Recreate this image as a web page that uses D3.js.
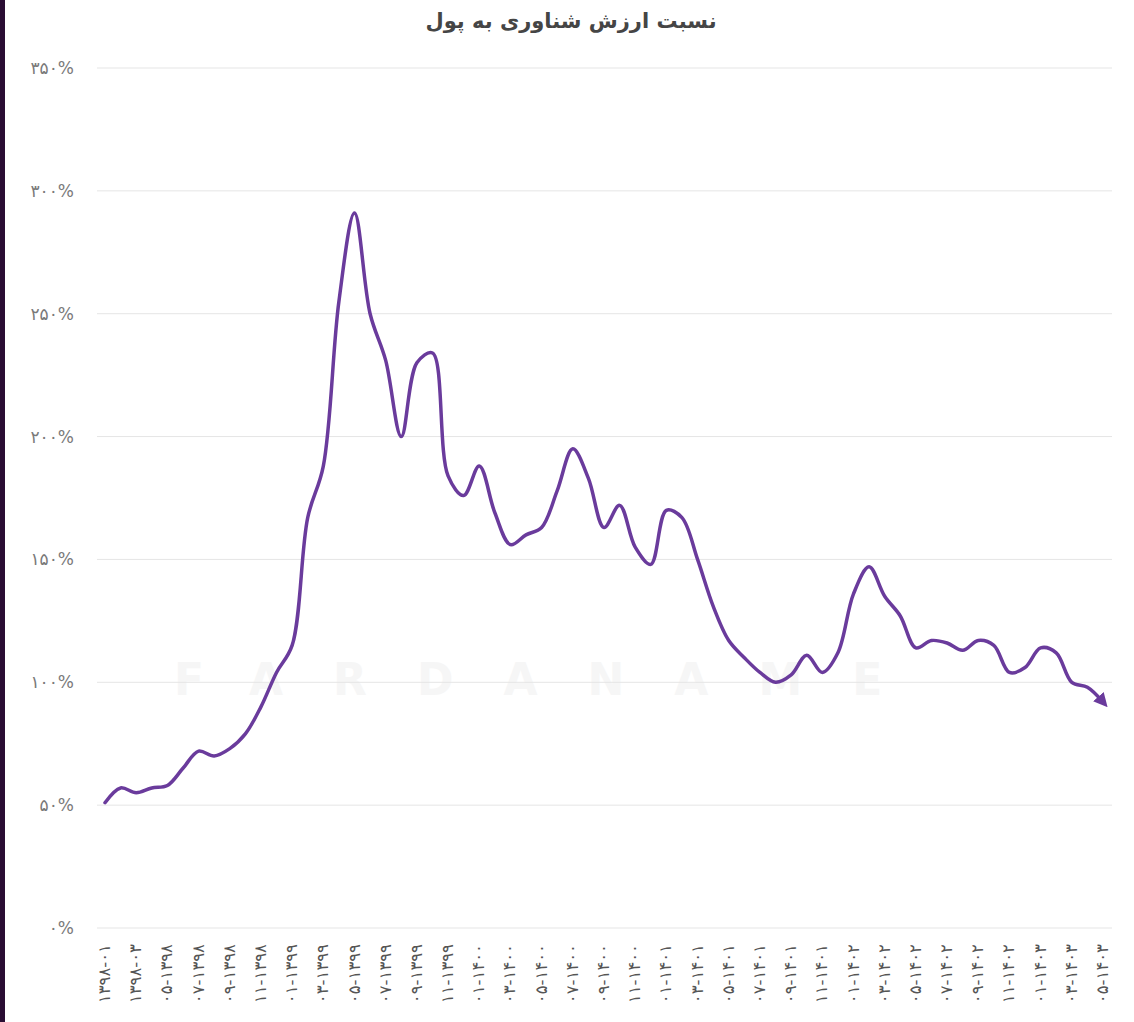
<!DOCTYPE html>
<html>
<head>
<meta charset="utf-8">
<script src="https://cdn.jsdelivr.net/npm/d3@7"></script>
<style>
  html, body { margin: 0; padding: 0; background: #ffffff; }
  svg { display: block; }
</style>
</head>
<body>
<svg id="chart" width="1134" height="1022"></svg>
<script>
// ---- data ----
const title = "نسبت ارزش شناوری به پول";

const months = [
  "1398-01","1398-02","1398-03","1398-04","1398-05","1398-06","1398-07","1398-08","1398-09","1398-10","1398-11","1398-12",
  "1399-01","1399-02","1399-03","1399-04","1399-05","1399-06","1399-07","1399-08","1399-09","1399-10","1399-11","1399-12",
  "1400-01","1400-02","1400-03","1400-04","1400-05","1400-06","1400-07","1400-08","1400-09","1400-10","1400-11","1400-12",
  "1401-01","1401-02","1401-03","1401-04","1401-05","1401-06","1401-07","1401-08","1401-09","1401-10","1401-11","1401-12",
  "1402-01","1402-02","1402-03","1402-04","1402-05","1402-06","1402-07","1402-08","1402-09","1402-10","1402-11","1402-12",
  "1403-01","1403-02","1403-03","1403-04","1403-05"
];

const ratio = [
  51, 57, 55, 57, 58, 65, 72, 70, 73, 79, 90, 104,
  115, 167, 188, 255, 291, 250, 231, 200, 230, 234, 184, 176,
  188, 169, 156, 160, 163, 178, 195, 183, 163, 172, 155, 148,
  170, 167, 150, 131, 117, 110, 104, 100, 103, 111, 104, 112,
  136, 147, 135, 127, 114, 117, 116, 113, 117, 115, 104, 106,
  114, 112, 100, 98, 92
];

const tickMonths = [
  "1398-01","1398-03","1398-05","1398-07","1398-09","1398-11",
  "1399-01","1399-03","1399-05","1399-07","1399-09","1399-11",
  "1400-01","1400-03","1400-05","1400-07","1400-09","1400-11",
  "1401-01","1401-03","1401-05","1401-07","1401-09","1401-11",
  "1402-01","1402-03","1402-05","1402-07","1402-09","1402-11",
  "1403-01","1403-03","1403-05"
];
// labels as they appear (read bottom-to-top)
const tickLabels = [
  "۱۳۹۸-۰۱","۱۳۹۸-۰۳","۰۵-۱۳۹۸","۰۷-۱۳۹۸","۰۹-۱۳۹۸","۱۱-۱۳۹۸",
  "۰۱-۱۳۹۹","۰۳-۱۳۹۹","۰۵-۱۳۹۹","۰۷-۱۳۹۹","۰۹-۱۳۹۹","۱۱-۱۳۹۹",
  "۰۱-۱۴۰۰","۰۳-۱۴۰۰","۰۵-۱۴۰۰","۰۷-۱۴۰۰","۰۹-۱۴۰۰","۱۱-۱۴۰۰",
  "۰۱-۱۴۰۱","۰۳-۱۴۰۱","۰۵-۱۴۰۱","۰۷-۱۴۰۱","۰۹-۱۴۰۱","۱۱-۱۴۰۱",
  "۰۱-۱۴۰۲","۰۳-۱۴۰۲","۰۵-۱۴۰۲","۰۷-۱۴۰۲","۰۹-۱۴۰۲","۱۱-۱۴۰۲",
  "۰۱-۱۴۰۳","۰۳-۱۴۰۳","۰۵-۱۴۰۳"
];

const yTicks = [0, 50, 100, 150, 200, 250, 300, 350];
const yTickLabels = ["۰%","۵۰%","۱۰۰%","۱۵۰%","۲۰۰%","۲۵۰%","۳۰۰%","۳۵۰%"];

// ---- drawing ----
const svg = d3.select("#chart");
const FONT = "'DejaVu Sans', 'Noto Sans', sans-serif";

// left dark border
svg.append("rect").attr("x", 0).attr("y", 0).attr("width", 5).attr("height", 1022).attr("fill", "#2a0d33");

const x = d3.scalePoint().domain(months).range([105, 1103]);
const y = d3.scaleLinear().domain([0, 350]).range([928, 68]);

// watermark
svg.append("text")
  .attr("x", 174).attr("y", 695)
  .attr("text-anchor", "start")
  .attr("font-family", FONT)
  .attr("font-size", 44)
  .attr("font-weight", "bold")
  .attr("letter-spacing", 50)
  .attr("fill", "#f6f6f6")
  .text("FARDANAME");

// gridlines
svg.append("g").selectAll("line").data(yTicks).join("line")
  .attr("x1", 97).attr("x2", 1112)
  .attr("y1", d => y(d)).attr("y2", d => y(d))
  .attr("stroke", "#e5e5e5").attr("stroke-width", 1);

// y labels
svg.append("g").selectAll("text").data(yTicks).join("text")
  .attr("x", 74).attr("y", d => y(d))
  .attr("dy", "0.35em")
  .attr("text-anchor", "end")
  .attr("font-family", FONT)
  .attr("font-size", 17)
  .attr("fill", "#7a7a7a")
  .style("direction", "ltr").style("unicode-bidi", "bidi-override")
  .text((d, i) => yTickLabels[i]);

// x labels
svg.append("g").selectAll("text").data(tickMonths).join("text")
  .attr("transform", d => `translate(${x(d) + 5},944) rotate(-90)`)
  .attr("text-anchor", "end")
  .attr("font-family", FONT)
  .attr("font-size", 16.5)
  .attr("fill", "#555")
  .style("direction", "ltr").style("unicode-bidi", "bidi-override")
  .text((d, i) => tickLabels[i]);

// arrow marker
svg.append("defs").append("marker")
  .attr("id", "arrow")
  .attr("viewBox", "0 0 10 10")
  .attr("refX", 5).attr("refY", 5)
  .attr("markerWidth", 4).attr("markerHeight", 4)
  .attr("orient", "auto")
  .append("path").attr("d", "M0,0 L10,5 L0,10 z").attr("fill", "#6a3b9c");

// line
const line = d3.line()
  .x((d, i) => x(months[i]))
  .y(d => y(d))
  .curve(d3.curveCatmullRom.alpha(0.5));

svg.append("path")
  .datum(ratio)
  .attr("d", line)
  .attr("fill", "none")
  .attr("stroke", "#6a3b9c")
  .attr("stroke-width", 3.5)
  .attr("stroke-linejoin", "round")
  .attr("stroke-linecap", "round")
  .attr("marker-end", "url(#arrow)");

// title
svg.append("text")
  .attr("x", 571).attr("y", 28)
  .attr("text-anchor", "middle")
  .attr("font-family", FONT)
  .attr("font-size", 21)
  .attr("font-weight", "bold")
  .attr("fill", "#454545")
  .attr("direction", "rtl")
  .text(title);
</script>
</body>
</html>
